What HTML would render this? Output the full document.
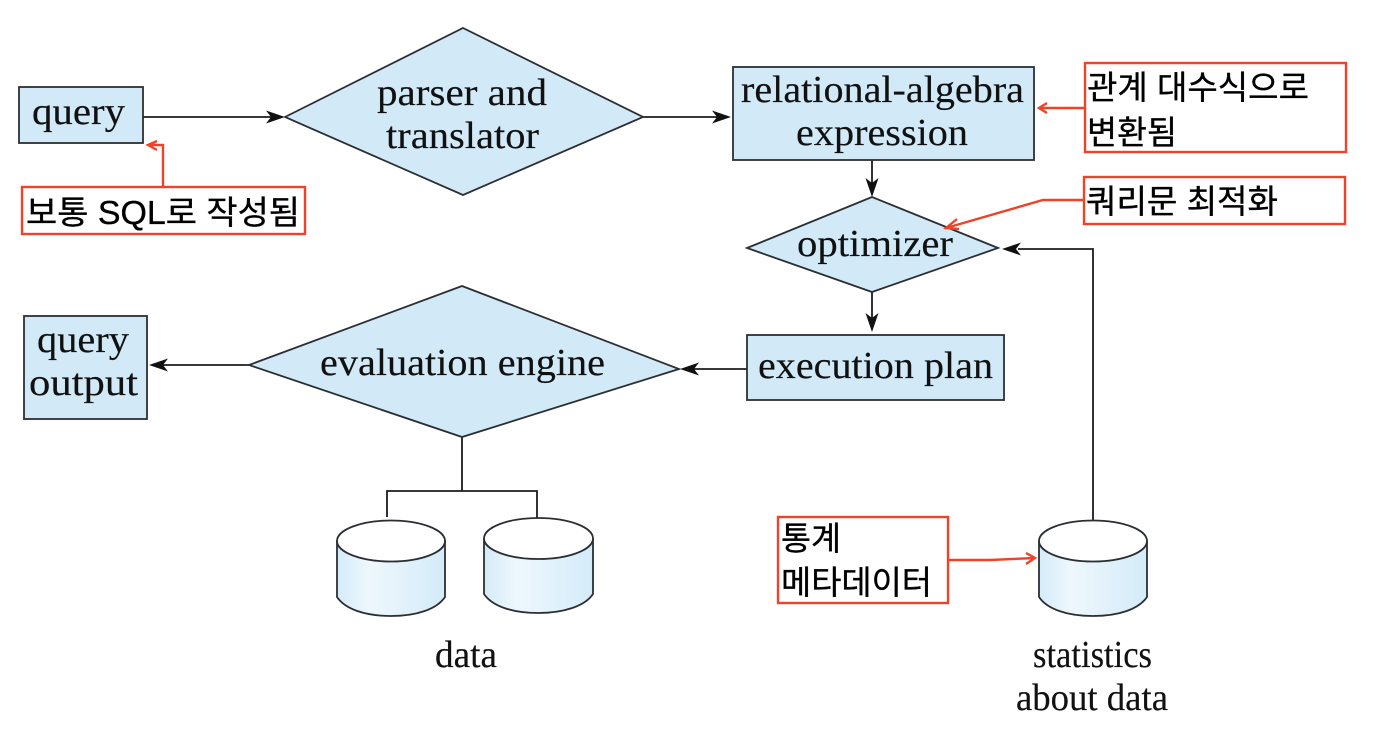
<!DOCTYPE html>
<html><head><meta charset="utf-8"><style>
html,body{margin:0;padding:0;background:#fff}
svg{display:block}
.s{font-family:"Liberation Serif",serif;font-size:38px;fill:#111;stroke:#111;stroke-width:.15}
.k{font-family:"Liberation Sans","Noto Sans CJK KR",sans-serif;font-size:33px;fill:#000;stroke:#000;stroke-width:.35}
.b{fill:#d2eaf8;stroke:#2b2f33;stroke-width:1.8}
.l{fill:none;stroke:#1c1c1c;stroke-width:1.8}
.r{fill:#fff;stroke:#ee4328;stroke-width:2.4}
.a{fill:none;stroke:#ee4328;stroke-width:2.4}
</style></head><body>
<svg width="1378" height="732" viewBox="0 0 1378 732" xmlns="http://www.w3.org/2000/svg">
<defs>
<linearGradient id="g" x1="0" x2="1" y1="0" y2="0">
<stop offset="0" stop-color="#d4ebf9"/><stop offset=".3" stop-color="#eef7fc"/><stop offset="1" stop-color="#d4ebf9"/>
</linearGradient>
</defs>

<!-- connectors -->
<path class="l" d="M141 117H272M643 117H718M872 160V185M872 292V320M747 369H692M249 365H160M1093 520V249H1018M462 437V491M387 517V491H537V518"/>
<path d="M285 117L266 110.500L271 117L266 123.500Z" fill="#111"/>
<path d="M731 117L712 110.500L717 117L712 123.500Z" fill="#111"/>
<path d="M872 197L865.500 178L872 183L878.500 178Z" fill="#111"/>
<path d="M872 332L865.500 313L872 318L878.500 313Z" fill="#111"/>
<path d="M680 369L699 362.500L694 369L699 375.500Z" fill="#111"/>
<path d="M149 365L168 358.500L163 365L168 371.500Z" fill="#111"/>
<path d="M1002 249L1021 242.500L1016 249L1021 255.500Z" fill="#111"/>

<!-- shapes -->
<rect class="b" x="19" y="87" width="124" height="56"/>
<polygon class="b" points="285,117 463,28 643,117 463,195"/>
<rect class="b" x="733" y="67" width="301" height="93"/>
<polygon class="b" points="747,248 872,197 998,248 872,292"/>
<rect class="b" x="747" y="335" width="257" height="65"/>
<polygon class="b" points="249,365 462,286 679,369 462,437"/>
<rect class="b" x="24" y="316" width="123" height="103"/>

<!-- cylinders -->
<g stroke="#2b2f33" stroke-width="1.8">
<path fill="url(#g)" d="M337 541V597C345 609 365 616 391 616C417 616 437 609 445 597V541Z"/>
<ellipse cx="391" cy="541" rx="54" ry="20.500" fill="#fff"/>
<path fill="url(#g)" d="M484 539V594C492 606 512 613 538 613C564 613 585 606 593 594V539Z"/>
<ellipse cx="538.500" cy="538.500" rx="54.500" ry="20.500" fill="#fff"/>
<path fill="url(#g)" d="M1039 541V597C1047 609 1067 616 1093 616C1119 616 1139 609 1147 597V541Z"/>
<ellipse cx="1093" cy="541" rx="54" ry="20.500" fill="#fff"/>
</g>

<!-- diagram labels -->
<text class="s" x="32" y="124" textLength="93" lengthAdjust="spacingAndGlyphs">query</text>
<text class="s" x="377" y="105" textLength="170" lengthAdjust="spacingAndGlyphs">parser and</text>
<text class="s" x="386" y="148" textLength="153" lengthAdjust="spacingAndGlyphs">translator</text>
<text class="s" x="741" y="102" textLength="283" lengthAdjust="spacingAndGlyphs">relational-algebra</text>
<text class="s" x="796" y="145" textLength="172" lengthAdjust="spacingAndGlyphs">expression</text>
<text class="s" x="797" y="256" textLength="156" lengthAdjust="spacingAndGlyphs">optimizer</text>
<text class="s" x="758" y="378" textLength="235" lengthAdjust="spacingAndGlyphs">execution plan</text>
<text class="s" x="320" y="375" textLength="285" lengthAdjust="spacingAndGlyphs">evaluation engine</text>
<text class="s" x="37" y="352" textLength="92" lengthAdjust="spacingAndGlyphs">query</text>
<text class="s" x="29" y="395" textLength="109" lengthAdjust="spacingAndGlyphs">output</text>
<text class="s" x="435" y="667" textLength="62" lengthAdjust="spacingAndGlyphs">data</text>
<text class="s" x="1033" y="667" textLength="119" lengthAdjust="spacingAndGlyphs">statistics</text>
<text class="s" x="1016" y="710" textLength="152" lengthAdjust="spacingAndGlyphs">about data</text>

<!-- annotations -->
<rect class="r" x="22" y="187" width="283" height="47"/>
<text class="k" x="26" y="224" textLength="274" lengthAdjust="spacingAndGlyphs">보통 SQL로 작성됨</text>
<path class="a" d="M163 187V145H149M157 141L148 145L157 150"/>

<rect class="r" x="1085" y="63" width="261" height="89"/>
<text class="k" x="1087" y="99" textLength="222" lengthAdjust="spacingAndGlyphs">관계 대수식으로</text>
<text class="k" x="1087" y="144" textLength="90" lengthAdjust="spacingAndGlyphs">변환됨</text>
<path class="a" d="M1085 108H1039M1047 103L1039 108L1047 113"/>

<rect class="r" x="1084" y="177" width="261" height="47"/>
<text class="k" x="1086" y="213" textLength="192" lengthAdjust="spacingAndGlyphs">쿼리문 최적화</text>
<path class="a" d="M1084 200H1043L946 228M957 219L946 228L959 229"/>

<rect class="r" x="778" y="517" width="170" height="86"/>
<text class="k" x="781" y="550" textLength="60" lengthAdjust="spacingAndGlyphs">통계</text>
<text class="k" x="781" y="594" textLength="151" lengthAdjust="spacingAndGlyphs">메타데이터</text>
<path class="a" d="M948 560L990 560L1035 558M1026 553L1035 558L1026 564"/>
</svg>
</body></html>
